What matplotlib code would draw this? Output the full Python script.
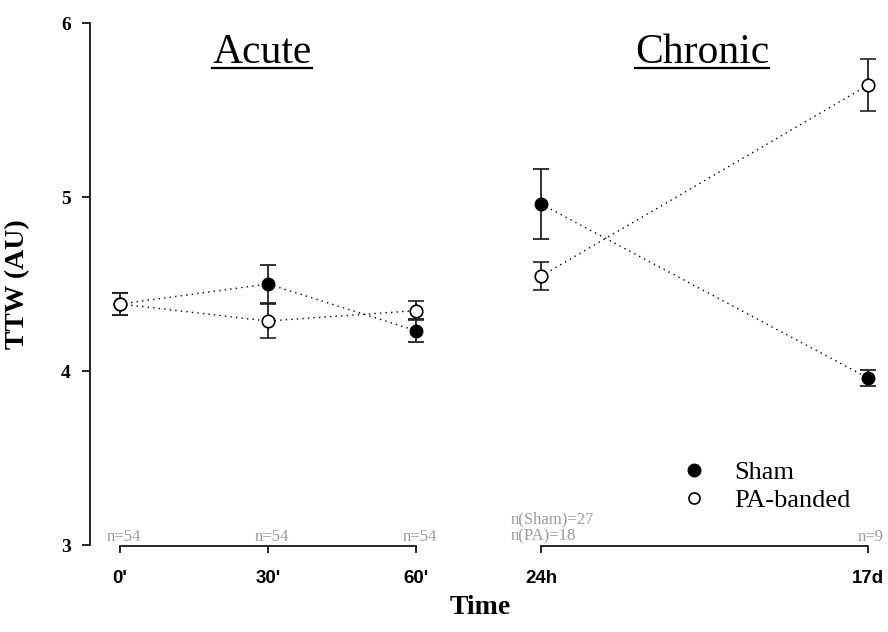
import matplotlib
matplotlib.use("Agg")
import matplotlib.pyplot as plt
from matplotlib.lines import Line2D

acute_labels = ["0'", "30'", "60'"]
chronic_labels = ["24h", "17d"]

sham_acute = [4.385, 4.50, 4.232]
sham_acute_err = [0.065, 0.11, 0.065]
pa_acute = [4.385, 4.287, 4.347]
pa_acute_err = [0.065, 0.10, 0.055]

sham_chronic = [4.96, 3.96]
sham_chronic_err = [0.20, 0.045]
pa_chronic = [4.545, 5.643]
pa_chronic_err = [0.08, 0.15]

acute_n = ["n=54", "n=54", "n=54"]
chronic_n = ["n(Sham)=27\nn(PA)=18", "n=9"]

serif = "Liberation Serif"
sans = "Liberation Sans"
grey = "#999999"

fig = plt.figure(figsize=(8.88, 6.32), dpi=100)
ax_a = fig.add_axes([90 / 888, 87 / 632, 390 / 888, 522 / 632])
ax_c = fig.add_axes([480 / 888, 87 / 632, 408 / 888, 522 / 632], sharey=ax_a)


def draw_group(ax, sham, sham_err, pa, pa_err):
    x = list(range(len(sham)))
    ax.plot(x, sham, ls=(0, (1, 3)), color="black", lw=1)
    ax.plot(x, pa, ls=(0, (1, 3)), color="black", lw=1)
    ax.errorbar(x, sham, yerr=sham_err, fmt="o", color="black", ms=9,
                ecolor="#222222", elinewidth=1.3, capsize=6, capthick=1.3,
                zorder=3)
    ax.errorbar(x, pa, yerr=pa_err, fmt="o", mfc="white", mec="black",
                mew=1.2, ms=9, ecolor="#222222", elinewidth=1.3, capsize=6,
                capthick=1.3, zorder=4)


draw_group(ax_a, sham_acute, sham_acute_err, pa_acute, pa_acute_err)
draw_group(ax_c, sham_chronic, sham_chronic_err, pa_chronic, pa_chronic_err)

ax_a.set_ylim(3, 6)
ax_a.set_xlim(-0.203, 2.432)
ax_c.set_xlim(-0.1865, 1.061)

for ax, labels in [(ax_a, acute_labels), (ax_c, chronic_labels)]:
    ax.set_facecolor("none")
    ax.spines["top"].set_visible(False)
    ax.spines["right"].set_visible(False)
    ax.spines["bottom"].set_bounds(0, len(labels) - 1)
    ax.spines["bottom"].set_position(("outward", 1))
    ax.spines["bottom"].set_linewidth(1.2)
    ax.set_xticks(range(len(labels)))
    ax.set_xticklabels(labels, fontsize=13.5, fontweight="bold", family=sans)
    ax.tick_params(axis="x", direction="out", length=5, width=1.2, pad=12)

ax_a.spines["left"].set_bounds(3, 6)
ax_a.spines["left"].set_linewidth(1.2)
ax_a.set_yticks([3, 4, 5, 6])
ax_a.set_yticklabels(["3", "4", "5", "6"], fontsize=14, fontweight="bold",
                     family=serif)
ax_a.tick_params(axis="y", direction="out", length=5.8, width=1.2, pad=8)
ax_a.set_ylabel("TTW (AU)", fontsize=20, fontweight="bold", family=serif)
ax_a.yaxis.set_label_coords(-0.154, 0.5)

ax_c.spines["left"].set_visible(False)
ax_c.tick_params(axis="y", left=False, labelleft=False)

fig.text(480 / 888, 1 - 607 / 632, "Time", fontsize=20, fontweight="bold",
         family=serif, ha="center", va="center")

# n labels above the x axis
for i, s in enumerate(acute_n):
    ax_a.annotate(s, xy=(i, 3), xytext=(3, 3), textcoords="offset points",
                  ha="center", va="baseline", fontsize=12, color=grey,
                  family=serif)
ax_c.annotate(chronic_n[0], xy=(0, 3), xytext=(-21.6, 3),
              textcoords="offset points", ha="left", va="baseline",
              fontsize=12, color=grey, family=serif, linespacing=1.1)
ax_c.annotate(chronic_n[1], xy=(1, 3), xytext=(10.8, 3),
              textcoords="offset points", ha="right", va="baseline",
              fontsize=12, color=grey, family=serif)

# panel titles
titles = []
for ax, label, xc in [(ax_a, "Acute", 0.96), (ax_c, "Chronic", 0.492)]:
    t = ax.text(xc, 0.923, label, transform=ax.get_xaxis_transform(),
                ha="center", va="baseline", fontsize=30, family=serif)
    titles.append(t)

# legend
handles = [
    Line2D([], [], ls="none", marker="o", color="black", ms=9),
    Line2D([], [], ls="none", marker="o", mfc="white", mec="black", mew=1.2,
           ms=8),
]
leg = ax_c.legend(handles, ["Sham", "PA-banded"], loc="lower left",
                  bbox_to_anchor=(668 / 888, 1 - 525 / 632),
                  bbox_transform=fig.transFigure, frameon=False,
                  prop={"family": serif, "size": 19}, handlelength=1.0,
                  handletextpad=1.0, labelspacing=0.15, borderpad=0)

# underline the titles
fig.canvas.draw()
inv = fig.transFigure.inverted()
for t in titles:
    bb = t.get_window_extent()
    yb = t.get_transform().transform(t.get_position())[1] - 5
    p0 = inv.transform((bb.x0, yb))
    p1 = inv.transform((bb.x1, yb))
    fig.add_artist(Line2D([p0[0], p1[0]], [p0[1], p1[1]], color="black",
                          lw=1.6, transform=fig.transFigure))

fig.savefig("out.png", dpi=100)
